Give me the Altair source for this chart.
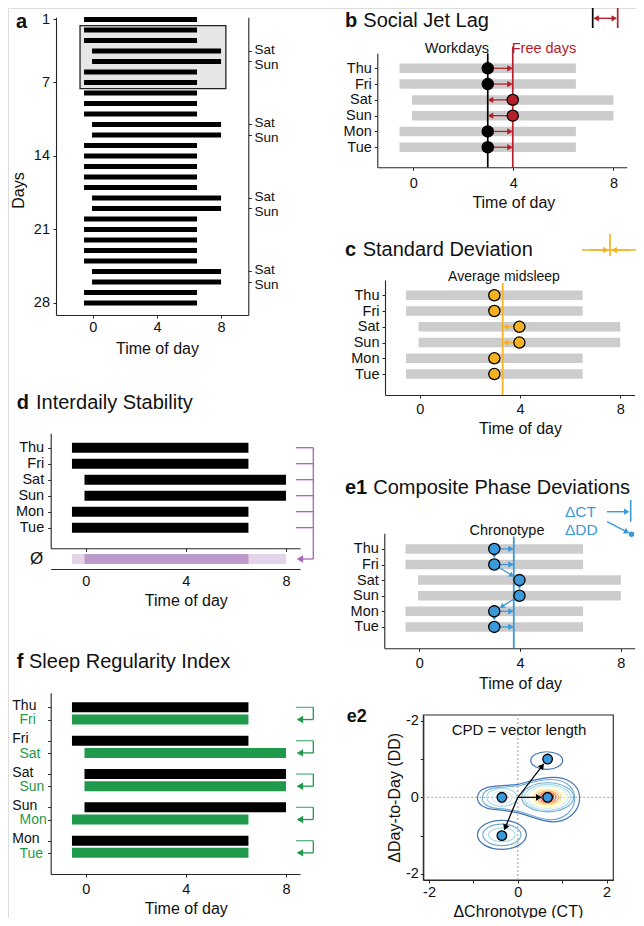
import json
import math
import altair as alt
import pandas as pd

FONT = "Liberation Sans"
W, H = 628, 910
MARGIN = 8

BLACK = "#111111"
AXC = "#262626"
GRAY = "#cccccc"
RED = "#b3202a"
ORANGE = "#f5b120"
BLUE = "#3a9ad9"
GREEN = "#1f9a4b"
GREEN_LIGHT = "#5fb97f"
PURPLE = "#a567b7"
PURPLE_LIGHT = "#e3d4ea"
PURPLE_DARK = "#bc9acb"

# ------------------------------------------------------------------ values
# (a) 28-day sleep record
a_days = list(range(1, 29))
a_onset = [-0.55, -0.55, -0.55, -0.05, -0.05, -0.55, -0.55,
           -0.55, -0.55, -0.55, -0.05, -0.05, -0.55, -0.55,
           -0.55, -0.55, -0.55, -0.05, -0.05, -0.55, -0.55,
           -0.55, -0.55, -0.55, -0.05, -0.05, -0.55, -0.55]
a_offset = [6.5, 6.5, 6.5, 8.0, 8.0, 6.5, 6.5,
            6.5, 6.5, 6.5, 8.0, 8.0, 6.5, 6.5,
            6.5, 6.5, 6.5, 8.0, 8.0, 6.5, 6.5,
            6.5, 6.5, 6.5, 8.0, 8.0, 6.5, 6.5]
a_sat = [4, 11, 18, 25]
a_sun = [5, 12, 19, 26]
a_day_ticks = [1, 7, 14, 21, 28]
a_box_time = [-0.8, 8.3]
a_box_days = [1.6, 7.6]

# one example week (panels b, c, d, e1)
week = ["Thu", "Fri", "Sat", "Sun", "Mon", "Tue"]
week_onset = [-0.55, -0.55, -0.05, -0.05, -0.55, -0.55]
week_offset = [6.5, 6.5, 8.0, 8.0, 6.5, 6.5]
free_day = [False, False, True, True, False, False]
time_ticks = [0, 4, 8]
chronotype = 3.75

# (f) consecutive-day pairs
f_first = ["Thu", "Fri", "Sat", "Sun", "Mon"]
f_second = ["Fri", "Sat", "Sun", "Mon", "Tue"]
f_first_on = [-0.55, -0.55, -0.05, -0.05, -0.55]
f_first_off = [6.5, 6.5, 8.0, 8.0, 6.5]
f_second_on = [-0.55, -0.05, -0.05, -0.55, -0.55]
f_second_off = [6.5, 8.0, 8.0, 6.5, 6.5]

# (e2) composite phase deviations
e2_ct = [-0.36, -0.36, 0.67, 0.67]
e2_dd = [0.0, -1.0, 1.0, 0.0]
e2_vec_ct = [0.67, 0.67, -0.36]
e2_vec_dd = [1.0, 0.0, -1.0]
e2_ticks = [-2, -1, 0, 1, 2]
# density contours read as ellipses: centre, semi-axes (data units), level
ring_ct = [0.65, -0.36, -0.36, -0.36, -0.36, -0.36,
           0.67, 0.67, 0.67, 0.67, 0.67, 0.67, 0.67, 0.67]
ring_dd = [0.96, -0.98, -0.98, -0.98, 0.0, 0.0,
           0.0, 0.0, 0.0, 0.0, 0.0, 0.0, 0.0, 0.0]
ring_a = [0.36, 0.55, 0.43, 0.30, 0.34, 0.23,
          0.585, 0.52, 0.45, 0.38, 0.315, 0.25, 0.19, 0.14]
ring_b = [0.23, 0.38, 0.28, 0.18, 0.235, 0.16,
          0.38, 0.34, 0.29, 0.25, 0.20, 0.16, 0.125, 0.09]
ring_level = [0, 0, 1, 2, 2, 3, 1, 2, 3, 4, 5, 6, 7, 8]
peanut_ct, peanut_dd = 0.24, -0.06
peanut_half = [1.15, 1.04]
peanut_level = [0, 1]
level_colors = ["#4575b4", "#74add1", "#abd9e9", "#d6ecf4", "#ffffbf",
                "#fee090", "#fdae61", "#f46d43", "#d73027"]


# ------------------------------------------------------------------ helpers
def c(v):
    return v - MARGIN


class Panel:
    def __init__(self, xdom, xpx, ydom, ypx):
        self.xdom, self.xpx, self.ydom, self.ypx = xdom, xpx, ydom, ypx
        self.xax = None
        self.yax = None

    def xs(self):
        return alt.Scale(domain=self.xdom, range=[c(v) for v in self.xpx], nice=False, zero=False)

    def ys(self):
        return alt.Scale(domain=self.ydom, range=[c(v) for v in self.ypx], nice=False, zero=False)

    @staticmethod
    def _lin(v, d, r):
        return r[0] + (v - d[0]) / (d[1] - d[0]) * (r[1] - r[0])

    def px(self, x, y):
        return self._lin(x, self.xdom, self.xpx), self._lin(y, self.ydom, self.ypx)

    def data(self, X, Y):
        return self._lin(X, self.xpx, self.xdom), self._lin(Y, self.ypx, self.ydom)


def X(p, f):
    return alt.X(f, type="quantitative", scale=p.xs(), axis=p.xax)


def Y(p, f):
    return alt.Y(f, type="quantitative", scale=p.ys(), axis=p.yax)


def base_axis(**kw):
    d = dict(grid=False, domainColor=AXC, tickColor=AXC, domainWidth=1.1, tickWidth=1,
             labelFont=FONT, titleFont=FONT, labelFontSize=14.5, titleFontSize=16,
             labelColor=BLACK, titleColor=BLACK, titleFontWeight="normal",
             labelFlush=False, labelOverlap=False, tickSize=3)
    d.update(kw)
    return alt.Axis(**d)


def bottom_axis(p, at, values, title=None, title_at=None, label_pad=5, title_pad=5, **kw):
    d = dict(orient="bottom", offset=c(at) - H, values=values, labelPadding=label_pad)
    if title is None:
        d["title"] = None
    else:
        d.update(title=title, titlePadding=title_pad, titleX=c(p.px(title_at, p.ydom[0])[0]))
    d.update(kw)
    return base_axis(**d)


def left_axis(p, at, values, label_expr=None, label_pad=3, **kw):
    d = dict(orient="left", offset=-c(at), values=values, labelPadding=label_pad)
    if label_expr is not None:
        d["labelExpr"] = label_expr
    if "title" not in kw:
        d["title"] = None
    d.update(kw)
    return base_axis(**d)


def week_expr():
    return json.dumps([""] + week) + "[datum.value]"


ONE = pd.DataFrame({"k": [0]})
HEADK = math.sqrt(3) / 2


def label(s, x, y, size=14.5, weight="normal", color=BLACK, align="left", baseline="middle", angle=None):
    kw = dict(text=s, font=FONT, fontSize=size, fontWeight=weight, color=color,
              align=align, baseline=baseline)
    if angle is not None:
        kw["angle"] = angle
    return alt.Chart(ONE).mark_text(**kw).encode(x=alt.value(c(x)), y=alt.value(c(y)))


def seg(x0, y0, x1, y1, color, width=1.5):
    return alt.Chart(ONE).mark_rule(color=color, strokeWidth=width).encode(
        x=alt.value(c(x0)), y=alt.value(c(y0)), x2=alt.value(c(x1)), y2=alt.value(c(y1)))


def px_arrow(x0, y0, x1, y1, color, width=1.4, size=40, shrink=0.0):
    h = HEADK * math.sqrt(size) / 2
    L = math.hypot(x1 - x0, y1 - y0)
    ux, uy = (x1 - x0) / L, (y1 - y0) / L
    cx_, cy_ = x1 - ux * (shrink + h), y1 - uy * (shrink + h)
    ang = math.degrees(math.atan2(ux, -uy)) % 360
    head = alt.Chart(ONE).mark_point(shape="triangle-up", filled=True, color=color, size=size,
                                     angle=ang, opacity=1).encode(x=alt.value(c(cx_)), y=alt.value(c(cy_)))
    return [seg(x0, y0, cx_, cy_, color, width), head]


def arrow_df(p, segs, shrink=0.0, size=40):
    h = HEADK * math.sqrt(size) / 2
    rows = []
    for xa, ya, xb, yb in segs:
        Xa, Ya = p.px(xa, ya)
        Xb, Yb = p.px(xb, yb)
        L = math.hypot(Xb - Xa, Yb - Ya)
        ux, uy = (Xb - Xa) / L, (Yb - Ya) / L
        hx, hy = p.data(Xb - ux * (shrink + h), Yb - uy * (shrink + h))
        rows.append({"x0": xa, "y0": ya, "x1": hx, "y1": hy,
                     "ang": math.degrees(math.atan2(ux, -uy)) % 360})
    return pd.DataFrame(rows)


def arrow_layers(p, df, color, width=1.3, size=40):
    line = alt.Chart(df).mark_rule(color=color, strokeWidth=width).encode(
        x=X(p, "x0"), x2="x1:Q", y=Y(p, "y0"), y2="y1:Q")
    heads = alt.Chart(df).mark_point(shape="triangle-up", filled=True, color=color, size=size,
                                     opacity=1).encode(
        x=X(p, "x1"), y=Y(p, "y1"), angle=alt.Angle("ang:Q", scale=None))
    return [line, heads]


rows = list(range(1, len(week) + 1))
mids = [(a + b) / 2 for a, b in zip(week_onset, week_offset)]
work_mid = sum(m for m, f in zip(mids, free_day) if not f) / free_day.count(False)
free_mid = sum(m for m, f in zip(mids, free_day) if f) / free_day.count(True)
avg_mid = sum(mids) / len(mids)
week_df = pd.DataFrame({"row": rows, "on": week_onset, "off": week_offset, "mid": mids, "free": free_day})

children = []

# ------------------------------------------------------------------ panel a
pa = Panel([-2.3, 9.7], [56, 248.3], [0.8, 29.15], [17.3, 315])
pa.xax = bottom_axis(pa, 315, time_ticks, "Time of day", 4, label_pad=2.5, title_pad=6)
pa.yax = left_axis(pa, 56, a_day_ticks, title="Days", titlePadding=7, titleY=c(190), label_pad=3.5)
box_df = pd.DataFrame({"t0": [a_box_time[0]], "t1": [a_box_time[1]], "d0": [a_box_days[0]], "d1": [a_box_days[1]]})
a_box = alt.Chart(box_df).mark_rect(fill="#e6e6e6", stroke="#222222", strokeWidth=1.3).encode(
    x=X(pa, "t0"), x2="t1:Q", y=Y(pa, "d0"), y2="d1:Q")
a_df = pd.DataFrame({"day": a_days, "on": a_onset, "off": a_offset})
a_bars = alt.Chart(a_df).mark_rule(color="black", strokeWidth=5).encode(
    x=X(pa, "on"), x2="off:Q", y=Y(pa, "day"))
children.append(alt.layer(a_box, a_bars))
we = sorted(a_sat + a_sun)
sat_test = "indexof(%s, datum.value) >= 0" % json.dumps(a_sat)
a_right = alt.Chart(pd.DataFrame({"day": we})).mark_point(opacity=0).encode(
    y=alt.Y("day:Q", scale=pa.ys(), axis=base_axis(
        orient="right", offset=c(248.3) - W, values=we, title=None, labelPadding=2.7,
        labelFontSize=13.5,
        labelOffset={"condition": {"test": sat_test, "value": -1.8}, "value": 2.6},
        labelExpr="%s ? 'Sat' : 'Sun'" % sat_test)))
children.append(a_right)

# ------------------------------------------------------------------ panel b
pb = Panel([-1.44, 8.53], [377.3, 626.7], [0.05, 7.27], [53.3, 167.3])
pb.xax = bottom_axis(pb, 167.3, time_ticks, "Time of day", 4, label_pad=6, title_pad=5)
pb.yax = left_axis(pb, 377.3, rows, week_expr())
b_bars = alt.Chart(week_df).mark_rule(color=GRAY, strokeWidth=9.5).encode(
    x=X(pb, "on"), x2="off:Q", y=Y(pb, "row"))
b_lines_df = pd.DataFrame({"x": [work_mid, free_mid], "top": [0.05, -0.37], "bot": [7.27, 7.27],
                           "free": [False, True]})
b_lines = alt.Chart(b_lines_df).mark_rule(strokeWidth=1.7).encode(
    x=X(pb, "x"), y=Y(pb, "top"), y2="bot:Q",
    color=alt.condition("datum.free", alt.value(RED), alt.value("black")))
b_mid = (work_mid + free_mid) / 2
b_arr = arrow_df(pb, [(b_mid, r, free_mid, r) for r in rows] + [(b_mid, r, work_mid, r) for r in rows])
b_dots = alt.Chart(week_df).mark_circle(size=125, stroke="black", strokeWidth=1.3, opacity=1).encode(
    x=X(pb, "mid"), y=Y(pb, "row"),
    fill=alt.condition("datum.free", alt.value(RED), alt.value("black")))
children.append(alt.layer(b_bars, b_lines, *arrow_layers(pb, b_arr, RED), b_dots))

# ------------------------------------------------------------------ panel c
pc = Panel([-1.39, 8.57], [385, 634.5], [0.03, 7.33], [280, 395])
pc.xax = bottom_axis(pc, 395, time_ticks, "Time of day", 4, label_pad=4, title_pad=5)
pc.yax = left_axis(pc, 385, rows, week_expr())
c_bars = alt.Chart(week_df).mark_rule(color=GRAY, strokeWidth=9.5).encode(
    x=X(pc, "on"), x2="off:Q", y=Y(pc, "row"))
c_line = alt.Chart(pd.DataFrame({"x": [avg_mid], "top": [0.22], "bot": [7.33]})).mark_rule(
    color=ORANGE, strokeWidth=1.7).encode(x=X(pc, "x"), y=Y(pc, "top"), y2="bot:Q")
c_arr = arrow_df(pc, [(m, r, avg_mid, r) for m, r, f in zip(mids, rows, free_day) if f])
c_dots = alt.Chart(week_df).mark_circle(size=125, fill=ORANGE, stroke="black", strokeWidth=1.3,
                                        opacity=1).encode(x=X(pc, "mid"), y=Y(pc, "row"))
children.append(alt.layer(c_bars, c_line, *arrow_layers(pc, c_arr, ORANGE), c_dots))

# ------------------------------------------------------------------ panel d
pdd = Panel([-1.4, 8.56], [50.7, 300], [0.1, 7.29], [433.3, 548.3])
avg_row = 7.96
pdd.xax = bottom_axis(pdd, 548.3, time_ticks, None, labels=False)
pdd.yax = left_axis(pdd, 50.7, rows, week_expr(), label_pad=4)
d_bars = alt.Chart(week_df).mark_rule(color="black", strokeWidth=10).encode(
    x=X(pdd, "on"), x2="off:Q", y=Y(pdd, "row"))
d_avg = pd.DataFrame({"on": [min(week_onset), max(week_onset)], "off": [max(week_offset), min(week_offset)],
                      "row": [avg_row, avg_row], "core": [False, True]})
d_avg_bars = alt.Chart(d_avg).mark_rule(strokeWidth=10).encode(
    x=X(pdd, "on"), x2="off:Q", y=Y(pdd, "row"),
    color=alt.condition("datum.core", alt.value(PURPLE_DARK), alt.value(PURPLE_LIGHT)))
d_br = pd.DataFrame({"row": rows})
d_ticks = alt.Chart(d_br).mark_rule(color=PURPLE, strokeWidth=1.3).encode(
    x=alt.value(c(296)), x2=alt.value(c(313.3)), y=Y(pdd, "row"))
d_vert = alt.Chart(pd.DataFrame({"a": [rows[0]], "b": [avg_row]})).mark_rule(
    color=PURPLE, strokeWidth=1.3).encode(x=alt.value(c(313.3)), y=Y(pdd, "a"), y2="b:Q")
hl = HEADK * math.sqrt(55) / 2
d_low = alt.Chart(pd.DataFrame({"row": [avg_row]})).mark_rule(color=PURPLE, strokeWidth=1.3).encode(
    x=alt.value(c(296.7 + hl)), x2=alt.value(c(313.3)), y=Y(pdd, "row"))
d_head = alt.Chart(pd.DataFrame({"row": [avg_row]})).mark_point(
    shape="triangle-left", filled=True, size=55, color=PURPLE, opacity=1).encode(
    x=alt.value(c(296.7 + hl)), y=Y(pdd, "row"))
children.append(alt.layer(d_bars, d_avg_bars, d_ticks, d_vert, d_low, d_head))
d_lower = alt.Chart(pd.DataFrame({"t": time_ticks})).mark_point(opacity=0).encode(
    x=alt.X("t:Q", scale=pdd.xs(), axis=bottom_axis(pdd, 569, time_ticks, "Time of day", 4,
                                                    label_pad=5, title_pad=5, tickSize=0)))
children.append(d_lower)

# ------------------------------------------------------------------ panel e1
pe = Panel([-1.39, 8.55], [384.3, 634.7], [0.0, 7.37], [533.3, 648.3])
pe.xax = bottom_axis(pe, 648.3, time_ticks, "Time of day", 4, label_pad=5.5, title_pad=5)
pe.yax = left_axis(pe, 384.3, rows, week_expr())
e_bars = alt.Chart(week_df).mark_rule(color=GRAY, strokeWidth=9.5).encode(
    x=X(pe, "on"), x2="off:Q", y=Y(pe, "row"))
e_line = alt.Chart(pd.DataFrame({"x": [chronotype], "top": [0.21], "bot": [7.37]})).mark_rule(
    color=BLUE, strokeWidth=1.8).encode(x=X(pe, "x"), y=Y(pe, "top"), y2="bot:Q")
e_h = arrow_df(pe, [(m, r, chronotype, r) for m, r, f in zip(mids, rows, free_day) if not f])
e_t = arrow_df(pe, [(mids[i], rows[i], mids[i + 1], rows[i + 1]) for i in range(len(rows) - 1)],
               shrink=6.3, size=34)
e_dots = alt.Chart(week_df).mark_circle(size=125, fill=BLUE, stroke="black", strokeWidth=1.3,
                                        opacity=1).encode(x=X(pe, "mid"), y=Y(pe, "row"))
children.append(alt.layer(e_bars, e_line, *arrow_layers(pe, e_h, BLUE),
                          *arrow_layers(pe, e_t, BLUE, size=34), e_dots))

# ------------------------------------------------------------------ panel f
pf = Panel([-1.4, 8.56], [50.7, 300], [-0.44, 5.0], [692.7, 874])
gap = 0.366
f_y1 = [float(k) for k in range(len(f_first))]
f_y2 = [k + gap for k in f_y1]
f_df = pd.DataFrame({"y": f_y1 + f_y2, "on": f_first_on + f_second_on, "off": f_first_off + f_second_off,
                     "second": [False] * len(f_y1) + [True] * len(f_y2),
                     "name": f_first + f_second})
pf.xax = bottom_axis(pf, 874, time_ticks, "Time of day", 4, label_pad=5, title_pad=5)
pf.yax = left_axis(pf, 50.7, sorted(f_y1 + f_y2), labels=False)
f_bars = alt.Chart(f_df).mark_rule(strokeWidth=10).encode(
    x=X(pf, "on"), x2="off:Q", y=Y(pf, "y"),
    color=alt.condition("datum.second", alt.value(GREEN), alt.value("black")))
f_lab1 = alt.Chart(f_df[~f_df.second]).mark_text(font=FONT, fontSize=14, align="left", color=BLACK,
                                                dy=-1.5).encode(
    x=alt.value(c(12.3)), y=Y(pf, "y"), text="name:N")
f_lab2 = alt.Chart(f_df[f_df.second]).mark_text(font=FONT, fontSize=14, align="left", color=GREEN,
                                                dy=0.8).encode(
    x=alt.value(c(19.5)), y=Y(pf, "y"), text="name:N")
f_br = pd.DataFrame({"y1": f_y1, "y2": f_y2})
f_top = alt.Chart(f_br).mark_rule(color=GREEN_LIGHT, strokeWidth=1.3).encode(
    x=alt.value(c(296)), x2=alt.value(c(313.3)), y=Y(pf, "y1"))
f_vert = alt.Chart(f_br).mark_rule(color=GREEN, strokeWidth=1.3).encode(
    x=alt.value(c(313.3)), y=Y(pf, "y1"), y2="y2:Q")
f_low = alt.Chart(f_br).mark_rule(color=GREEN, strokeWidth=1.3).encode(
    x=alt.value(c(296.7 + hl)), x2=alt.value(c(313.3)), y=Y(pf, "y2"))
f_head = alt.Chart(f_br).mark_point(shape="triangle-left", filled=True, size=55, color=GREEN,
                                    opacity=1).encode(x=alt.value(c(296.7 + hl)), y=Y(pf, "y2"))
children.append(alt.layer(f_bars, f_lab1, f_lab2, f_top, f_vert, f_low, f_head))

# ------------------------------------------------------------------ panel e2
p2 = Panel([-2.13, 2.15], [423.3, 613.3], [-2.16, 2.15], [880, 715])
p2.xax = bottom_axis(p2, 880, e2_ticks, "ΔChronotype (CT)", 0, label_pad=2.5, title_pad=4,
                     labelExpr="datum.value == 0 ? '0' : (datum.value == 2 ? '2' : (datum.value == -2 ? '-2' : ''))")
p2.yax = left_axis(p2, 423.3, e2_ticks,
                   "datum.value == 0 ? '0' : (abs(datum.value) == 2 ? '-2' : '')",
                   label_pad=2, title="ΔDay-to-Day (DD)", titlePadding=3, titleY=c(p2.px(0, 0)[1]))
e2_box = alt.Chart(pd.DataFrame({"x0": [p2.xdom[0]], "x1": [p2.xdom[1]], "y0": [p2.ydom[0]], "y1": [p2.ydom[1]]})
                   ).mark_rect(fillOpacity=0, stroke=AXC, strokeWidth=1.1).encode(
    x=X(p2, "x0"), x2="x1:Q", y=Y(p2, "y0"), y2="y1:Q")
e2_zero = pd.DataFrame({"x0": [0.0, p2.xdom[0]], "x1": [0.0, p2.xdom[1]],
                        "y0": [p2.ydom[0], 0.0], "y1": [p2.ydom[1], 0.0]})
e2_zl = alt.Chart(e2_zero).mark_rule(color="#9a9a9a", strokeWidth=1, strokeDash=[2, 2]).encode(
    x=X(p2, "x0"), x2="x1:Q", y=Y(p2, "y0"), y2="y1:Q")

xu = (p2.xpx[1] - p2.xpx[0]) / (p2.xdom[1] - p2.xdom[0])
yu = (p2.ypx[0] - p2.ypx[1]) / (p2.ydom[1] - p2.ydom[0])
KB = 0.5523


def ellipse_path(r):
    k = KB
    return (f"M -1 0 C -1 {-k*r:.4f} {-k:.4f} {-r:.4f} 0 {-r:.4f} "
            f"C {k:.4f} {-r:.4f} 1 {-k*r:.4f} 1 0 "
            f"C 1 {k*r:.4f} {k:.4f} {r:.4f} 0 {r:.4f} "
            f"C {-k:.4f} {r:.4f} -1 {k*r:.4f} -1 0 Z")


PEANUT = ("M -1 -0.03 C -1 -0.18 -0.85 -0.25 -0.69 -0.26 "
          "C -0.5 -0.28 -0.35 -0.28 -0.2 -0.3 "
          "C -0.05 -0.33 0.2 -0.435 0.49 -0.435 "
          "C 0.75 -0.435 1 -0.3 1 -0.03 "
          "C 1 0.25 0.75 0.435 0.49 0.435 "
          "C 0.25 0.435 0.05 0.32 -0.2 0.26 "
          "C -0.4 0.22 -0.55 0.2 -0.69 0.19 "
          "C -0.85 0.18 -1 0.1 -1 -0.03 Z")

ring_rows = []
for hw, lv in zip(peanut_half, peanut_level):
    ring_rows.append({"cx": peanut_ct, "cy": peanut_dd, "shape": PEANUT, "size": (2 * hw * xu) ** 2, "level": lv})
for cx_, cy_, a_, b_, lv in zip(ring_ct, ring_dd, ring_a, ring_b, ring_level):
    ax_px, by_px = a_ * xu, b_ * yu
    ring_rows.append({"cx": cx_, "cy": cy_, "shape": ellipse_path(by_px / ax_px),
                      "size": (2 * ax_px) ** 2, "level": lv})
ring_df = pd.DataFrame(ring_rows)
e2_rings = alt.Chart(ring_df).mark_point(filled=False, strokeWidth=1.2, opacity=1).encode(
    x=X(p2, "cx"), y=Y(p2, "cy"),
    shape=alt.Shape("shape:N", scale=None), size=alt.Size("size:Q", scale=None),
    color=alt.Color("level:O", scale=alt.Scale(domain=list(range(len(level_colors))), range=level_colors),
                    legend=None))
e2_arr = arrow_df(p2, [(0.0, 0.0, a, b) for a, b in zip(e2_vec_ct, e2_vec_dd)], shrink=5.8, size=45)
e2_dots = alt.Chart(pd.DataFrame({"ct": e2_ct, "dd": e2_dd})).mark_circle(
    size=92, fill=BLUE, stroke="black", strokeWidth=1.3, opacity=1).encode(x=X(p2, "ct"), y=Y(p2, "dd"))
children.append(alt.layer(e2_box, e2_zl, e2_rings, *arrow_layers(p2, e2_arr, "black", width=1.2, size=45),
                          e2_dots))

# ------------------------------------------------------------------ titles & annotations
T = 20
children += [
    label("a", 16, 28, T, "bold", baseline="alphabetic"),
    label("b", 345, 27, T, "bold", baseline="alphabetic"),
    label("Social Jet Lag", 363.3, 27, T, baseline="alphabetic"),
    label("c", 345, 256, T, "bold", baseline="alphabetic"),
    label("Standard Deviation", 362.7, 256, T, baseline="alphabetic"),
    label("d", 16.7, 409, T, "bold", baseline="alphabetic"),
    label("Interdaily Stability", 36, 409, T, baseline="alphabetic"),
    label("e1", 345, 494, T, "bold", baseline="alphabetic"),
    label("Composite Phase Deviations", 373.3, 494, T, baseline="alphabetic"),
    label("f", 16.7, 668, T, "bold", baseline="alphabetic"),
    label("Sleep Regularity Index", 29, 668, T, baseline="alphabetic"),
    label("e2", 346.7, 721.7, 18, "bold", baseline="alphabetic"),
    label("Workdays", 489, 49, 14.5, align="right"),
    label("Free days", 511.7, 49, 14.5, color=RED),
    label("Average midsleep", 504, 277, 14, align="center"),
    label("Chronotype", 507, 530.5, 14.5, align="center"),
    label("Ø", 36.7, 559, 17, align="center"),
    label("CPD = vector length", 519, 730, 15, align="center"),
    label("ΔCT", 565, 511.7, 15.5, color=BLUE),
    label("ΔDD", 565, 530, 15.5, color=BLUE),
]
# legend glyphs
children += [seg(592.7, 6.7, 592.7, 28, "black", 1.7), seg(617.7, 6.7, 617.7, 28, RED, 1.7)]
children += px_arrow(605.2, 18.3, 617.0, 18.3, RED) + px_arrow(605.2, 18.3, 593.4, 18.3, RED)
children += [seg(582, 250, 636.7, 250, ORANGE, 1.6), seg(610, 234, 610, 256, ORANGE, 1.7)]
children += px_arrow(590, 250, 608.6, 250, ORANGE) + px_arrow(630, 250, 611.4, 250, ORANGE)
children += px_arrow(607, 511.7, 629.5, 511.7, BLUE) + [seg(630.7, 500, 630.7, 521.7, BLUE, 1.6)]
children += px_arrow(607, 521.7, 631.5, 534.3, BLUE, shrink=2.5)
children.append(alt.Chart(ONE).mark_circle(size=30, color=BLUE, opacity=1).encode(
    x=alt.value(c(631.5)), y=alt.value(c(534.3))))

chart = alt.layer(*children).resolve_scale(x="independent", y="independent").properties(
    width=W, height=H, padding=0, autosize=alt.AutoSizeParams(type="none")
).configure_view(stroke=None).configure(font=FONT)

chart.save("out.html", embed_options={"renderer": "svg", "actions": False})
